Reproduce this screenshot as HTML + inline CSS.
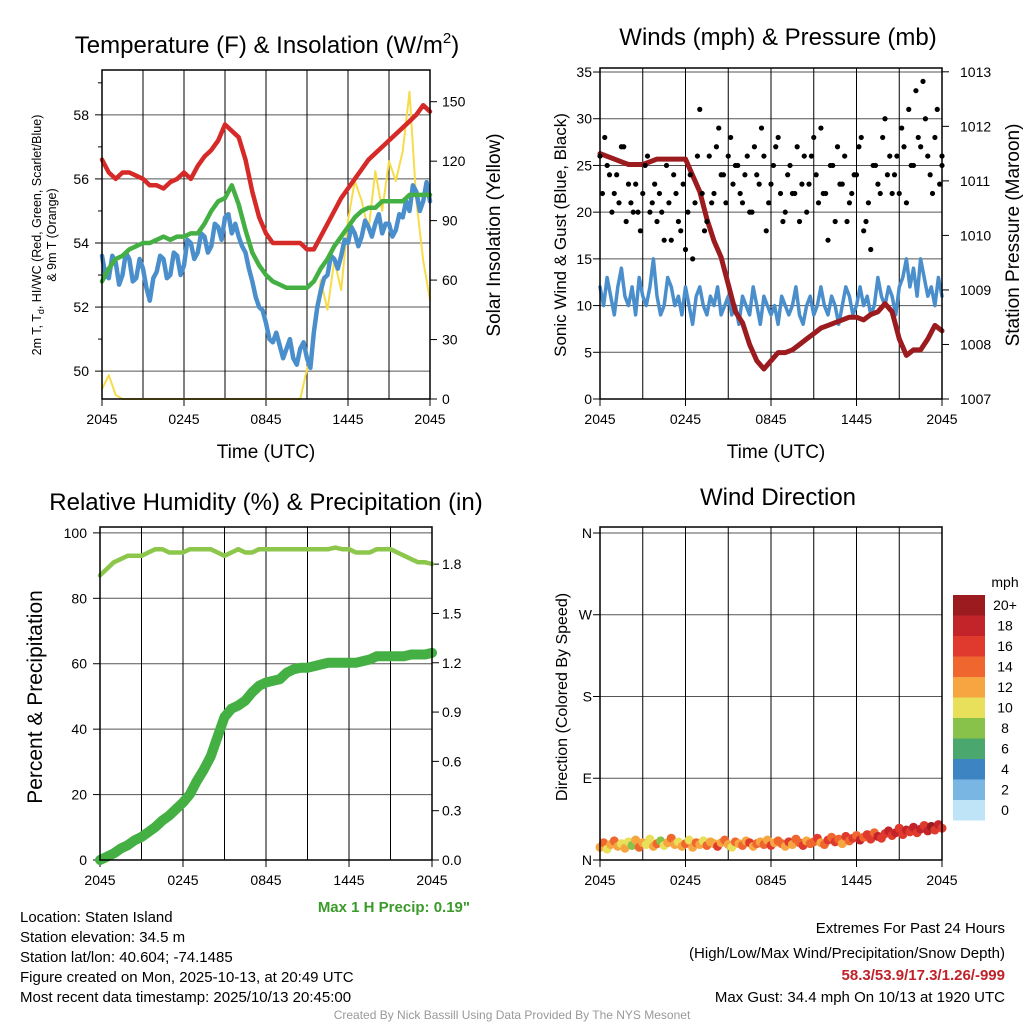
<!DOCTYPE html>
<html><head><meta charset="utf-8"><style>
html,body{margin:0;padding:0;background:#fff;}
svg text{font-family:"Liberation Sans",sans-serif;}
</style></head><body>
<svg id="fig" xmlns="http://www.w3.org/2000/svg" width="1024" height="1024" viewBox="0 0 1024 1024">
<g id="g1"></g>
<g id="g2"></g>
<g id="g3"></g>
<g id="g4"></g>
<text x="267" y="53" font-size="24" text-anchor="middle">Temperature (F) &amp; Insolation (W/m<tspan font-size="15" dy="-10">2</tspan><tspan dy="10">)</tspan></text>
<text x="778" y="45" font-size="24" text-anchor="middle">Winds (mph) &amp; Pressure (mb)</text>
<text x="266" y="510" font-size="24" text-anchor="middle">Relative Humidity (%) &amp; Precipitation (in)</text>
<text x="778" y="505" font-size="24" text-anchor="middle">Wind Direction</text>
<text x="266" y="458" font-size="19" text-anchor="middle">Time (UTC)</text>
<text x="776" y="458" font-size="19" text-anchor="middle">Time (UTC)</text>
<text transform="translate(41,235) rotate(-90)" font-size="12.5" text-anchor="middle">2m T, T<tspan font-size="9" dy="3">d</tspan><tspan dy="-3">, HI/WC (Red, Green, Scarlet/Blue)</tspan></text>
<text transform="translate(56,235) rotate(-90)" font-size="12.5" text-anchor="middle">&amp; 9m T (Orange)</text>
<text transform="translate(500,235) rotate(-90)" font-size="19" text-anchor="middle">Solar Insolation (Yellow)</text>
<text transform="translate(566,235) rotate(-90)" font-size="17" text-anchor="middle">Sonic Wind &amp; Gust (Blue, Black)</text>
<text transform="translate(1019,235) rotate(-90)" font-size="19" text-anchor="middle">Station Pressure (Maroon)</text>
<text transform="translate(42,697) rotate(-90)" font-size="21" text-anchor="middle">Percent &amp; Precipitation</text>
<text transform="translate(567,697) rotate(-90)" font-size="16" text-anchor="middle">Direction (Colored By Speed)</text>
<text x="470" y="912" font-size="15" font-weight="bold" fill="#3a9a2a" text-anchor="end">Max 1 H Precip: 0.19"</text>
<g font-size="15">
<text x="20" y="922">Location: Staten Island</text>
<text x="20" y="942">Station elevation: 34.5 m</text>
<text x="20" y="962">Station lat/lon: 40.604; -74.1485</text>
<text x="20" y="982">Figure created on Mon, 2025-10-13, at 20:49 UTC</text>
<text x="20" y="1002">Most recent data timestamp: 2025/10/13 20:45:00</text>
</g>
<g font-size="15" text-anchor="end">
<text x="1005" y="933">Extremes For Past 24 Hours</text>
<text x="1005" y="958">(High/Low/Max Wind/Precipitation/Snow Depth)</text>
<text x="1005" y="980" fill="#c0222a" font-weight="bold">58.3/53.9/17.3/1.26/-999</text>
<text x="1005" y="1002">Max Gust: 34.4 mph On 10/13 at 1920 UTC</text>
</g>
<text x="512" y="1019" font-size="12" fill="#999" text-anchor="middle">Created By Nick Bassill Using Data Provided By The NYS Mesonet</text>
</svg>
<script>
const timeLabels=["2045","0245","0845","1445","2045"];
const tempRed=[56.6,56.2,56.0,56.2,56.2,56.1,56.0,55.8,55.8,55.7,55.9,56.0,56.2,56.0,56.4,56.7,56.9,57.2,57.7,57.5,57.3,56.6,55.6,54.8,54.3,54.0,54.0,54.0,54.0,54.0,53.8,53.8,54.2,54.6,55.0,55.4,55.7,56.0,56.3,56.6,56.8,57.0,57.2,57.4,57.6,57.8,58.0,58.3,58.1];
const tempGreen=[52.8,53.2,53.5,53.6,53.8,53.9,54.0,54.0,54.1,54.2,54.1,54.2,54.2,54.3,54.3,54.6,55.0,55.3,55.4,55.8,55.2,54.4,53.7,53.3,53.0,52.8,52.7,52.6,52.6,52.6,52.6,52.8,53.2,53.5,53.9,54.2,54.5,54.8,55.0,55.1,55.1,55.3,55.3,55.3,55.3,55.5,55.5,55.5,55.5];
const tempBlue=[53.6,53.0,52.9,53.6,53.4,52.7,53.0,53.7,53.5,52.8,52.9,53.5,53.2,52.6,52.2,52.9,53.1,53.6,53.5,52.9,53.0,53.7,53.6,53.0,53.3,54.1,54.0,53.5,53.7,54.3,54.2,53.7,53.9,54.6,54.5,54.1,54.8,54.9,54.3,54.6,54.2,53.9,53.7,53.2,52.8,52.3,52.0,51.9,51.5,51.0,50.9,51.2,50.8,50.4,50.7,51.0,50.4,50.2,50.7,50.9,50.4,50.1,51.2,52.0,52.5,52.9,53.0,53.6,53.5,53.2,53.6,54.1,54.0,54.5,54.3,53.9,54.2,54.7,54.5,54.2,54.6,54.9,54.3,54.6,54.6,54.2,54.4,54.9,54.8,55.3,55.0,55.8,55.6,55.0,55.3,55.9,55.3];
const insolation=[5,12,2,0,0,0,0,0,0,0,0,0,0,0,0,0,0,0,0,0,0,0,0,0,0,0,0,0,0,0,15,30,60,45,70,55,90,110,100,85,115,95,120,110,125,155,100,70,50];
const windSpeed=[12,10,13,11,9,12,14,11,10,12,9,13,11,10,12,15,11,9,10,13,12,10,11,9,12,10,8,11,12,10,9,11,10,12,9,10,11,9,10,8,11,10,9,12,10,8,11,10,9,10,8,11,10,9,10,12,9,8,10,11,9,10,12,10,9,11,10,8,10,12,11,9,10,12,10,11,9,10,13,11,10,12,11,9,12,13,15,12,14,11,15,13,11,12,10,13,11];
const gusts=[26,28,24,22,21,27,23,20,20,22,26,21,19,20,25,17,22,18,16,24,21,31,18,26,22,29,24,26,23,25,21,26,20,24,29,18,23,27,22,20,25,22,19,26,23,28,21,22,17,25,27,23,19,22,24,28,19,16,25,22,30,26,24,22,27,31,25,28,34,26,22,31,25];
const gustsB=[22,25,20,24,27,19,21,23,18,25,20,23,22,17,21,24,19,23,20,15,26,22,19,21,27,24,21,28,25,22,24,20,27,23,26,21,25,28,19,24,22,27,23,20,26,24,29,22,25,19,23,26,21,24,27,18,21,25,23,28,24,22,26,29,21,25,33,27,30,24,28,23,26];
const pressure=[1011.5,1011.45,1011.4,1011.35,1011.3,1011.3,1011.3,1011.35,1011.4,1011.4,1011.4,1011.4,1011.4,1011.1,1010.8,1010.3,1009.9,1009.6,1009.1,1008.6,1008.4,1008.0,1007.7,1007.55,1007.7,1007.85,1007.85,1007.9,1008.0,1008.1,1008.2,1008.3,1008.35,1008.4,1008.45,1008.5,1008.5,1008.45,1008.55,1008.6,1008.75,1008.6,1008.1,1007.8,1007.9,1007.9,1008.1,1008.35,1008.25];
const rh=[87,89,91,92,93,93,93,94,95,95,94,94,94,95,95,95,95,94,93,94,95,94,94,95,95,95,95,95,95,95,95,95,95,95,95.5,95,95,94,94,94,95,95,95,94,93,92,91,91,90.5];
const precip=[0,0.02,0.04,0.07,0.09,0.12,0.14,0.17,0.2,0.24,0.27,0.31,0.35,0.4,0.48,0.55,0.63,0.75,0.87,0.92,0.94,0.97,1.02,1.06,1.08,1.09,1.1,1.14,1.16,1.17,1.17,1.18,1.19,1.2,1.2,1.2,1.2,1.2,1.21,1.22,1.24,1.24,1.24,1.24,1.24,1.25,1.25,1.25,1.26];
const direction=[14,19,12,17,21,15,18,13,20,16,22,14,19,17,23,15,18,21,16,19,24,17,20,15,18,22,14,19,17,21,16,20,18,15,19,22,17,14,20,18,16,21,19,15,18,20,17,22,16,19,21,18,15,20,17,23,19,16,21,18,20,24,19,17,22,25,20,23,18,26,21,24,27,22,25,28,23,30,26,24,29,32,27,30,35,28,33,31,36,30,34,38,32,37,33,39,35];
const dirSpeed=[12,14,11,13,15,12,10,13,11,9,12,14,13,11,10,12,14,9,11,13,15,12,10,13,14,11,12,15,13,11,14,12,13,16,12,14,13,11,15,12,14,13,16,12,15,13,14,12,16,13,15,14,12,16,13,15,14,17,13,15,14,16,13,15,17,14,16,15,13,17,14,16,15,18,14,16,17,15,18,16,17,19,16,18,17,16,19,17,18,16,19,17,18,20,17,18,16];
const tempTicks=[50,52,54,56,58];
const insolTicks=[0,30,60,90,120,150];
const windTicks=[0,5,10,15,20,25,30,35];
const presTicks=[1007,1008,1009,1010,1011,1012,1013];
const pctTicks=[0,20,40,60,80,100];
const precipTicks=[0,0.3,0.6,0.9,1.2,1.5,1.8];
const dirTicks=[0,90,180,270,360];
const dirLabels=["N","E","S","W","N"];
const cbLabels=["20+","18","16","14","12","10","8","6","4","2","0"];
const cbColors=["#9b1b1e","#c3242a","#e03a2f","#f0662f","#f6a540","#e8e05a","#88c24a","#4aa86e","#3d84c2","#7ab6e3","#bfe3f7"];

const NS="http://www.w3.org/2000/svg";
function el(parent,tag,attrs){const e=document.createElementNS(NS,tag);for(const k in attrs)e.setAttribute(k,attrs[k]);parent.appendChild(e);return e;}
function scale(d0,d1,r0,r1){return v=>r0+(v-d0)/(d1-d0)*(r1-r0);}
function txt(p,x,y,s,anchor,size){const t=el(p,'text',{x:x,y:y,'font-size':size||14,'text-anchor':anchor});t.textContent=s;return t;}

function frame(g,x0,x1,y0,y1){
  const X=scale(0,24,x0,x1);
  for(let h=3;h<24;h+=3){const l=el(g,'line',{x1:X(h),x2:X(h),y1:y0,y2:y1,stroke:'#000','stroke-width':1});
    }
  timeLabels.forEach((s,i)=>{const h=i*6;
    el(g,'line',{x1:X(h),x2:X(h),y1:y1,y2:y1+7,stroke:'#000'});
    const t=txt(g,X(h),y1+25,s,'middle',14);
    });
  return X;
}
function hgrid(g,x0,x1,y){el(g,'line',{x1:x0,x2:x1,y1:y,y2:y,stroke:'#555','stroke-width':1});}
function box(g,x0,x1,y0,y1){const r=el(g,'rect',{x:x0,y:y0,width:x1-x0,height:y1-y0,fill:'none',stroke:'#000','stroke-width':1.5});
  }
function path(g,xs,ys,color,w,name){const d=xs.map((x,i)=>(i?'L':'M')+x.toFixed(1)+' '+ys[i].toFixed(1)).join(' ');
  const p=el(g,'path',{d:d,fill:'none',stroke:color,'stroke-width':w,'stroke-linejoin':'round','stroke-linecap':'round'});
  return p;}
const tIdx=a=>a.map((_,i)=>i*24/(a.length-1));

// Panel 1
(function(){const g=document.getElementById('g1');const x0=102,x1=430,y0=70,y1=399;
  const Y=scale(49.13,59.4,y1,y0), YR=scale(0,166,y1,y0);
  tempTicks.forEach(v=>{hgrid(g,x0,x1,Y(v));el(g,'line',{x1:x0-7,x2:x0,y1:Y(v),y2:Y(v),stroke:'#000'});
    const t=txt(g,x0-13,Y(v)+5,v,'end',14);
    el(g,'line',{x1:x0-4,x2:x0,y1:Y(v+1),y2:Y(v+1),stroke:'#000'});});
  insolTicks.forEach(v=>{el(g,'line',{x1:x1,x2:x1+7,y1:YR(v),y2:YR(v),stroke:'#000'});
    const t=txt(g,x1+12,YR(v)+5,v,'start',14);});
  const X=frame(g,x0,x1,y0,y1);
  path(g,tIdx(insolation).map(X),insolation.map(YR),'#f7dc4a',2,'insolation-line');
  path(g,tIdx(tempBlue).map(X),tempBlue.map(Y),'#4a8fcc',4.5,'windchill-line');
  path(g,tIdx(tempGreen).map(X),tempGreen.map(Y),'#44b043',4.5,'dewpoint-line');
  path(g,tIdx(tempRed).map(X),tempRed.map(Y),'#d62a28',4.5,'temperature-line');
  box(g,x0,x1,y0,y1);
})();
// Panel 2
(function(){const g=document.getElementById('g2');const x0=600,x1=942,y0=68,y1=399;
  const Y=scale(0,35.43,y1,y0), YR=scale(1007,1013.07,y1,y0);
  windTicks.forEach(v=>{hgrid(g,x0,x1,Y(v));el(g,'line',{x1:x0-7,x2:x0,y1:Y(v),y2:Y(v),stroke:'#000'});
    const t=txt(g,x0-8,Y(v)+5,v,'end',14);});
  presTicks.forEach(v=>{el(g,'line',{x1:x1,x2:x1+7,y1:YR(v),y2:YR(v),stroke:'#000'});
    const t=txt(g,x1+18,YR(v)+5,v,'start',14);});
  const X=frame(g,x0,x1,y0,y1);
  path(g,tIdx(windSpeed).map(X),windSpeed.map(Y),'#4a8fcc',3.5,'wind-speed-line');
  path(g,tIdx(pressure).map(X),pressure.map(YR),'#9b1b1e',5,'pressure-line');
  tIdx(gusts).forEach((h,i)=>{const c=el(g,'circle',{cx:X(h),cy:Y(gusts[i]),r:2.6,fill:'#000'});
    
    });
  tIdx(gustsB).forEach((h,i)=>{const c=el(g,'circle',{cx:X(Math.min(24,h+0.17)),cy:Y(gustsB[i]),r:2.6,fill:'#000'});
    
    });
  box(g,x0,x1,y0,y1);
})();
// Panel 3
(function(){const g=document.getElementById('g3');const x0=100,x1=432,y0=527,y1=860;
  const Y=scale(0,101.8,y1,y0), YR=scale(0,2.026,y1,y0);
  pctTicks.forEach(v=>{hgrid(g,x0,x1,Y(v));el(g,'line',{x1:x0-7,x2:x0,y1:Y(v),y2:Y(v),stroke:'#000'});
    const t=txt(g,x0-13,Y(v)+5,v,'end',14);});
  precipTicks.forEach(v=>{el(g,'line',{x1:x1,x2:x1+7,y1:YR(v),y2:YR(v),stroke:'#000'});
    const t=txt(g,x1+10,YR(v)+5,v.toFixed(1),'start',14);});
  const X=frame(g,x0,x1,y0,y1);
  path(g,tIdx(rh).map(X),rh.map(Y),'#8cc74c',4.5,'humidity-line');
  path(g,tIdx(precip).map(X),precip.map(YR),'#44b043',10,'precipitation-line');
  box(g,x0,x1,y0,y1);
})();
// Panel 4
(function(){const g=document.getElementById('g4');const x0=600,x1=942,y0=527,y1=860;
  const Y=scale(0,366.6,y1,y0);
  dirTicks.forEach((v,i)=>{hgrid(g,x0,x1,Y(v));el(g,'line',{x1:x0-7,x2:x0,y1:Y(v),y2:Y(v),stroke:'#000'});
    const t=txt(g,x0-8,Y(v)+5,dirLabels[i],'end',14);});
  const X=frame(g,x0,x1,y0,y1);
  tIdx(direction).forEach((h,i)=>{const b=Math.min(10,Math.floor(dirSpeed[i]/2));
    const c=el(g,'circle',{cx:X(h),cy:Y(direction[i]),r:4.5,fill:cbColors[10-b]});
    
    });
  box(g,x0,x1,y0,y1);
  const cb=el(g,'g',{});
  txt(cb,1005,587,'mph','middle',14);
  cbColors.forEach((c,i)=>{el(cb,'rect',{x:953,y:595+i*20.5,width:32,height:20.5,fill:c});
    const t=txt(cb,1005,610+i*20.5,cbLabels[i],'middle',14);});
})();
</script>
</body></html>
